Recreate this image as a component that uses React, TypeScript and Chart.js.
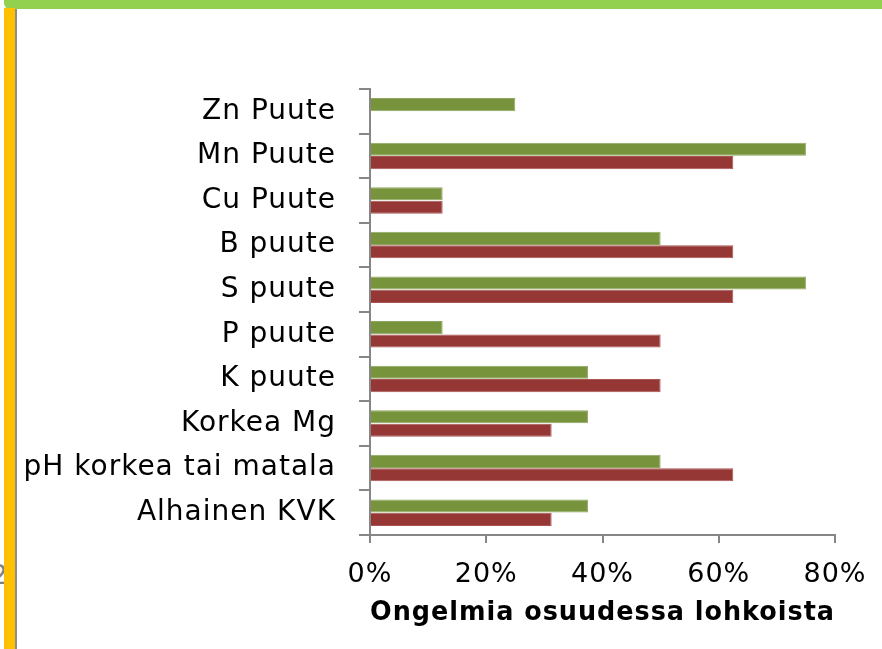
import React, { useEffect, useRef } from "react";
import { Chart, registerables } from "chart.js";

Chart.register(...registerables);

const categories = [
  "Zn Puute",
  "Mn Puute",
  "Cu Puute",
  "B puute",
  "S puute",
  "P puute",
  "K puute",
  "Korkea Mg",
  "pH korkea tai matala",
  "Alhainen KVK",
];
const greenValues = [25, 75, 12.5, 50, 75, 12.5, 37.5, 37.5, 50, 37.5];
const redValues = [0, 62.5, 12.5, 62.5, 62.5, 50, 50, 31.25, 62.5, 31.25];
const xTicks = [0, 20, 40, 60, 80];
const xTitle = "Ongelmia osuudessa lohkoista";

const FONT = "'DejaVu Sans'";

const spacingPlugin = {
  id: "letterSpacing",
  beforeDraw: (chart: any) => {
    (chart.ctx as any).letterSpacing = "1px";
  },
};

export default function App() {
  const ref = useRef<HTMLCanvasElement>(null);
  useEffect(() => {
    document.body.style.margin = "0";
    const ctx = ref.current!;
    const chart = new Chart(ctx, {
      type: "bar",
      data: {
        labels: categories,
        datasets: [
          {
            label: "A",
            data: greenValues,
            backgroundColor: "#77933C",
            borderColor: "#8FA860",
            borderWidth: 1,
            categoryPercentage: 0.6,
            barPercentage: 0.98,
          },
          {
            label: "B",
            data: redValues,
            backgroundColor: "#953735",
            borderColor: "#A85553",
            borderWidth: 1,
            categoryPercentage: 0.6,
            barPercentage: 0.98,
          },
        ],
      },
      plugins: [spacingPlugin],
      options: {
        indexAxis: "y",
        animation: false,
        responsive: false,
        layout: { padding: { left: 17, right: 47, top: 89, bottom: 20 } },
        plugins: { legend: { display: false }, tooltip: { enabled: false } },
        scales: {
          x: {
            min: 0,
            max: 80,
            afterBuildTicks: (s: any) => {
              s.ticks = xTicks.map((v) => ({ value: v }));
            },
            afterFit: (s: any) => {
              s.height = 94;
            },
            border: { color: "#868686", width: 2 },
            grid: {
              drawOnChartArea: false,
              drawTicks: true,
              tickLength: 8,
              color: "#868686",
              lineWidth: 2,
            },
            ticks: {
              color: "#000",
              font: { family: FONT, size: 27 },
              padding: 16,
              callback: (v: any) => v + "%",
            },
            title: {
              display: true,
              text: xTitle,
              color: "#000",
              font: { family: FONT, size: 26, weight: "bold" },
              padding: { top: 4, bottom: 0 },
            },
          },
          y: {
            offset: true,
            afterFit: (s: any) => {
              s.width = 353;
            },
            border: { color: "#868686", width: 2 },
            grid: {
              offset: true,
              drawOnChartArea: false,
              drawTicks: true,
              tickLength: 11,
              color: "#868686",
              lineWidth: 2,
            },
            ticks: {
              color: "#000",
              font: { family: FONT, size: 28 },
              padding: 23,
            },
          },
        },
      },
    });
    return () => chart.destroy();
  }, []);

  return (
    <div
      style={{
        position: "relative",
        width: 882,
        height: 649,
        background: "#fff",
        overflow: "hidden",
      }}
    >
      <div
        style={{
          position: "absolute",
          left: -9,
          top: 560,
          fontFamily: FONT,
          fontSize: 26,
          color: "#808080",
        }}
      >
        2
      </div>
      <canvas ref={ref} width={882} height={649} style={{ position: "absolute", left: 0, top: 0 }} />
      <div
        style={{
          position: "absolute",
          left: 4,
          top: 0,
          width: 878,
          height: 9,
          background: "#92D050",
          borderBottomLeftRadius: 6,
        }}
      />
      <div
        style={{
          position: "absolute",
          left: 4,
          top: 8,
          width: 11,
          height: 641,
          background: "#FFC000",
        }}
      />
      <div
        style={{
          position: "absolute",
          left: 15,
          top: 9,
          width: 2,
          height: 640,
          background: "#8C8C8C",
        }}
      />
    </div>
  );
}
